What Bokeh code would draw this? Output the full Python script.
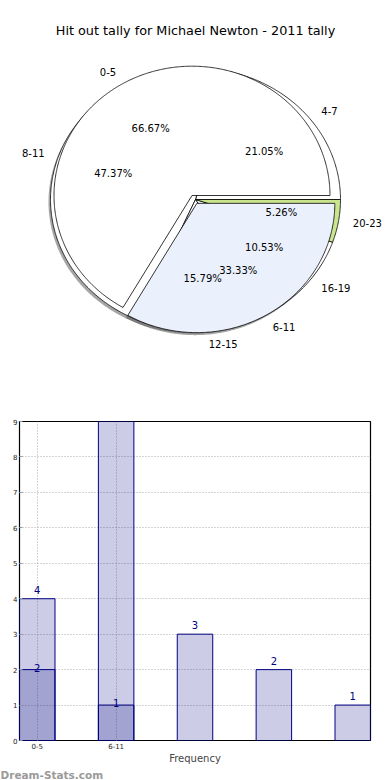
import numpy as np
from bokeh.plotting import figure
from bokeh.models import Range1d, FixedTicker, Title
from bokeh.embed import file_html
from bokeh.resources import INLINE
from bokeh.core.properties import value

# ---------------- data ----------------
title_text = "Hit out tally for Michael Newton - 2011 tally"

labels_a = ["4-7", "8-11", "12-15", "16-19", "20-23"]
values_a = [4, 9, 3, 2, 1]
colors_a = ["#ffffff", "#ffffff", "#ffffff", "#ffffff", "#c9e68f"]
explode_a = [0, 0, 0, 0, 0]

labels_b = ["0-5", "6-11"]
values_b = [2, 1]
colors_b = ["#ffffff", "#eaf0fc"]
explode_b = [0, 0.07]

bar_values_1 = [4, 9, 3, 2, 1]
bar_values_2 = [2, 1]
bar_tick_labels = ["0-5", "6-11"]
x_label = "Frequency"
watermark = "Dream-Stats.com"

FONT = "DejaVu Sans"
W = 390
PIE_H = 400
BAR_H = 380

# ---------------- pie (unit = 1 px, y measured upward) ----------------
pie = figure(width=W, height=PIE_H, output_backend="svg", toolbar_location=None,
             x_range=Range1d(0, W), y_range=Range1d(0, PIE_H), min_border=0,
             x_axis_location=None, y_axis_location=None)
pie.grid.visible = False
pie.outline_line_color = None


def pie_shapes(values, explode, cx, cy, rx, ry):
    total = float(sum(values))
    start = 0.0
    out = []
    for v, e in zip(values, explode):
        span = 360.0 * v / total
        mid = np.radians(start + span / 2)
        ox = e * rx * np.cos(mid)
        oy = e * ry * np.sin(mid)
        t = np.radians(np.linspace(start, start + span, max(int(span) * 2, 6)))
        xs = [cx + ox] + list(cx + ox + rx * np.cos(t)) + [cx + ox]
        ys = [cy + oy] + list(cy + oy + ry * np.sin(t)) + [cy + oy]
        out.append(dict(xs=xs, ys=ys, mid=mid, cx=cx + ox, cy=cy + oy,
                        rx=rx, ry=ry, pct="%.2f%%" % (100.0 * v / total)))
        start += span
    return out


geo_a = pie_shapes(values_a, explode_a, 195.0, PIE_H - 199.0, 145.0, 131.5)
geo_b = pie_shapes(values_b, explode_b, 191.5, PIE_H - 195.0, 138.0, 129.3)

SH_X, SH_Y = -2.0, -2.5
for geo in (geo_a, geo_b):
    pie.patches(xs=[[x + SH_X for x in g["xs"]] for g in geo],
                ys=[[y + SH_Y for y in g["ys"]] for g in geo],
                fill_color="#4d4d4d", fill_alpha=0.5, line_color=None)

for geo, cols in ((geo_a, colors_a), (geo_b, colors_b)):
    pie.patches(xs=[g["xs"] for g in geo], ys=[g["ys"] for g in geo],
                fill_color=cols, line_color="black", line_width=0.8)

for geo, labs in ((geo_a, labels_a), (geo_b, labels_b)):
    for g, lab in zip(geo, labs):
        c, s = np.cos(g["mid"]), np.sin(g["mid"])
        pie.text(x=[g["cx"] + 1.1 * g["rx"] * c], y=[g["cy"] + 1.1 * g["ry"] * s],
                 text=[lab], text_align="left" if c >= 0 else "right",
                 text_baseline="middle", text_font=value(FONT),
                 text_font_size="10px", text_color="black")
        pie.text(x=[g["cx"] + 0.6 * g["rx"] * c], y=[g["cy"] + 0.6 * g["ry"] * s],
                 text=[g["pct"]], text_align="center",
                 text_baseline="middle", text_font=value(FONT),
                 text_font_size="10px", text_color="black")

pie.text(x=[195], y=[PIE_H - 30], text=[title_text], text_align="center",
         text_baseline="middle", text_font=value(FONT),
         text_font_size="12.8px", text_color="black")

# ---------------- bars ----------------
bar = figure(width=W, height=BAR_H, output_backend="svg", toolbar_location=None,
             x_range=Range1d(-0.225, 4.225), y_range=Range1d(0, 9),
             min_border_left=19, min_border_right=20, min_border_top=21,
             min_border_bottom=40)
bar.outline_line_color = "black"
bar.outline_line_width = 1.2

x1 = list(range(len(bar_values_1)))
x2 = list(range(len(bar_values_2)))
bar.vbar(x=x1, top=bar_values_1, width=0.45, fill_color="navy", fill_alpha=0.2,
         line_color="navy", line_width=1)
bar.vbar(x=x2, top=bar_values_2, width=0.45, fill_color="navy", fill_alpha=0.2,
         line_color="navy", line_width=1)

bar.text(x=x1, y=bar_values_1, text=[str(v) for v in bar_values_1],
         text_align="center", text_baseline="middle", y_offset=-9,
         text_font=value(FONT), text_font_size="10px", text_color="navy")
bar.text(x=x2, y=bar_values_2, text=[str(v) for v in bar_values_2],
         text_align="center", text_baseline="middle", y_offset=-2,
         text_font=value(FONT), text_font_size="10px", text_color="navy")

bar.yaxis.ticker = FixedTicker(ticks=list(range(10)))
bar.xaxis.ticker = FixedTicker(ticks=list(range(len(bar_tick_labels))))
bar.xaxis.major_label_overrides = {i: t for i, t in enumerate(bar_tick_labels)}
for ax in (bar.xaxis, bar.yaxis):
    ax.axis_line_color = None
    ax.major_tick_in = 3
    ax.major_tick_out = 0
    ax.minor_tick_line_color = None
    ax.major_tick_line_color = "#999999"
    ax.major_label_text_font = FONT
    ax.major_label_text_font_size = "7px"
    ax.major_label_text_color = "#222222"
    ax.major_label_standoff = 2
bar.xaxis.axis_label = x_label
bar.xaxis.axis_label_text_font = FONT
bar.xaxis.axis_label_text_font_size = "10px"
bar.xaxis.axis_label_text_font_style = "normal"
bar.xaxis.axis_label_standoff = 1
bar.grid.grid_line_color = "#aaaaaa"
bar.grid.grid_line_dash = "1 2"
bar.grid.grid_line_width = 1

bar.add_layout(Title(text=watermark, align="left", offset=-19, standoff=0,
                     text_font=FONT, text_font_size="10.5px",
                     text_font_style="bold", text_color="#9a9a9a"), "below")

open("out.html", "w").write(file_html([pie, bar], INLINE))
